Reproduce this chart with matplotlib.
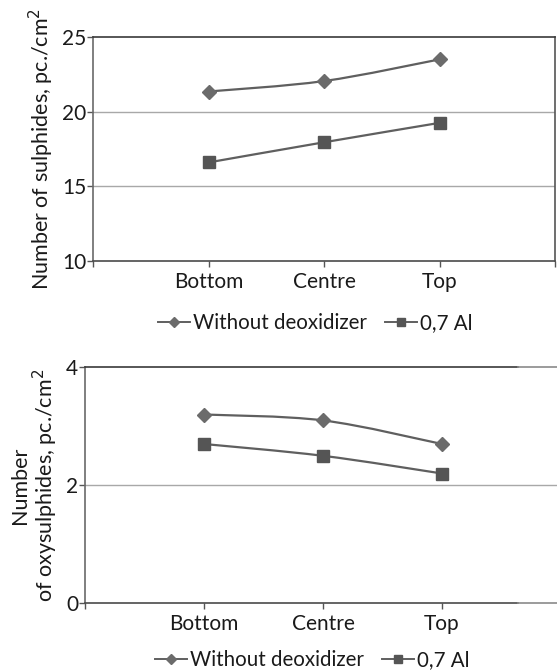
import matplotlib
matplotlib.use("Agg")
import matplotlib.pyplot as plt
from matplotlib.path import Path
from matplotlib.patches import PathPatch
from matplotlib.lines import Line2D
import numpy as np

plt.rcParams['font.family'] = ['Lato', 'DejaVu Sans']

positions = ['Bottom', 'Centre', 'Top']
series_names = ['Without deoxidizer', '0,7 Al']

sulphides_none = [21.35, 22.05, 23.5]
sulphides_al = [16.6, 17.95, 19.25]

oxysulphides_none = [3.2, 3.1, 2.7]
oxysulphides_al = [2.7, 2.5, 2.2]

LINE_COL = '#5f5f5f'
DIAMOND_COL = '#6b6b6b'
SQUARE_COL = '#555555'
TEXT_COL = '#1a1a1a'


def smooth_path(x, y):
    # catmull-rom style bezier, like excel "smoothed line"
    pts = np.column_stack([x, y]).astype(float)
    verts = [pts[0]]
    codes = [Path.MOVETO]
    n = len(pts)
    for i in range(n - 1):
        p0 = pts[max(i - 1, 0)]
        p1 = pts[i]
        p2 = pts[i + 1]
        p3 = pts[min(i + 2, n - 1)]
        c1 = p1 + (p2 - p0) / 6.0
        c2 = p2 - (p3 - p1) / 6.0
        verts += [c1, c2, p2]
        codes += [Path.CURVE4] * 3
    return Path(verts, codes)


def draw_series(ax, y, marker, col, ms):
    x = np.arange(1, len(y) + 1)
    ax.add_patch(PathPatch(smooth_path(x, y), fill=False, edgecolor=LINE_COL,
                           lw=1.6, zorder=3))
    ax.plot(x, y, ls='none', marker=marker, ms=ms, color=col, zorder=4)


def style_axes(ax, ylim, yticks, grid_vals, xmax, xticks):
    ax.set_xlim(0, xmax)
    ax.set_ylim(*ylim)
    ax.set_yticks(yticks)
    ax.set_xticks(xticks)
    ax.set_xticklabels(['' if t not in (1, 2, 3) else positions[t - 1] for t in xticks])
    for g in grid_vals:
        ax.axhline(g, color='#a8a8a8', lw=1.0, zorder=1)
    ax.tick_params(axis='both', direction='out', length=4, width=1.0,
                   color='#555555', labelsize=15, pad=1, labelcolor=TEXT_COL)
    ax.tick_params(axis='x', pad=4)
    ax.spines['left'].set_color('#6a6a6a')
    ax.spines['bottom'].set_color('#4a4a4a')
    ax.spines['top'].set_color('#3a3a3a')
    for s in ax.spines.values():
        s.set_linewidth(1.2)


def add_legend(fig, cx, cy):
    handles = [
        Line2D([], [], color=LINE_COL, lw=1.4, marker='D', ms=5, mfc=DIAMOND_COL, mec=DIAMOND_COL),
        Line2D([], [], color=LINE_COL, lw=1.4, marker='s', ms=6, mfc=SQUARE_COL, mec=SQUARE_COL),
    ]
    fig.legend(handles, series_names, loc='center', bbox_to_anchor=(cx, cy), ncol=2,
               frameon=False, fontsize=14.8, handlelength=1.55, handletextpad=0.15,
               columnspacing=0.9, labelcolor=TEXT_COL, borderpad=0)


fig = plt.figure(figsize=(5.57, 6.70), dpi=100)

# top panel
ax1 = fig.add_axes([93 / 557, 1 - 261 / 670, 462 / 557, 224 / 670])
style_axes(ax1, (10, 25), [10, 15, 20, 25], [15, 20], 4, [0, 1, 2, 3, 4])
ax1.spines['right'].set_color('#555555')
draw_series(ax1, sulphides_none, 'D', DIAMOND_COL, 7)
draw_series(ax1, sulphides_al, 's', SQUARE_COL, 8.5)
ax1.set_ylabel('Number of sulphides, pc./cm$^2$', fontsize=15.5, color=TEXT_COL, labelpad=4)
add_legend(fig, 315.5 / 557, 1 - 323 / 670)

# bottom panel
ax2 = fig.add_axes([85 / 557, 1 - 603.3 / 670, 472 / 557, 236 / 670])
style_axes(ax2, (0, 4), [0, 2, 4], [2], 472 / 119, [0, 1, 2, 3])
ax2.spines['right'].set_visible(False)
ax2.spines['top'].set_visible(False)
ax2.spines['bottom'].set_visible(False)
ax2.axhline(4, xmin=0, xmax=433 / 472, color='#3a3a3a', lw=1.2, clip_on=False, zorder=5)
ax2.axhline(4, xmin=433 / 472, xmax=1, color='#8a8a8a', lw=1.2, clip_on=False, zorder=5)
ax2.axhline(0, xmin=0, xmax=433 / 472, color='#4a4a4a', lw=1.2, clip_on=False, zorder=5)
ax2.axhline(0, xmin=433 / 472, xmax=1, color='#8a8a8a', lw=1.2, clip_on=False, zorder=5)
draw_series(ax2, oxysulphides_none, 'D', DIAMOND_COL, 7)
draw_series(ax2, oxysulphides_al, 's', SQUARE_COL, 8.5)
ax2.set_ylabel('Number\nof oxysulphides, pc./cm$^2$', fontsize=15.5, color=TEXT_COL,
               labelpad=4, linespacing=1.05)
add_legend(fig, 312.5 / 557, 1 - 660 / 670)

fig.savefig('out.png', dpi=100)
